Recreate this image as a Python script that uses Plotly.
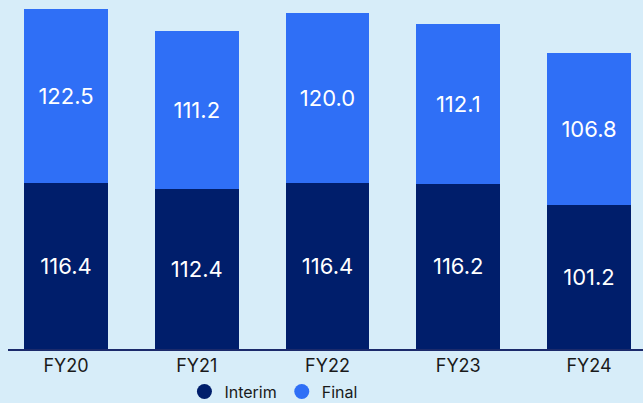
import plotly.graph_objects as go

years = ["FY20", "FY21", "FY22", "FY23", "FY24"]
interim = [116.4, 112.4, 116.4, 116.2, 101.2]
final = [122.5, 111.2, 120.0, 112.1, 106.8]

NAVY = "#001e6b"
BLUE = "#2f6ff6"
BG = "#d7edf9"

fig = go.Figure()

fig.add_trace(go.Bar(x=years, y=interim, marker_color=NAVY, marker_line_width=0, width=0.64,
                     text=[f"{v:.1f}" for v in interim], textposition="inside",
                     insidetextanchor="middle", textangle=0,
                     textfont=dict(family="Inter", size=22, color="white"),
                     showlegend=False))
fig.add_trace(go.Bar(x=years, y=final, marker_color=BLUE, marker_line_width=0, width=0.64,
                     text=[f"{v:.1f}" for v in final], textposition="inside",
                     insidetextanchor="middle", textangle=0,
                     textfont=dict(family="Inter", size=22, color="white"),
                     showlegend=False))

# legend with round markers
fig.add_trace(go.Scatter(x=[None], y=[None], mode="markers", name="Interim",
                         marker=dict(color=NAVY, size=15, symbol="circle")))
fig.add_trace(go.Scatter(x=[None], y=[None], mode="markers", name="Final",
                         marker=dict(color=BLUE, size=15, symbol="circle")))

fig.update_layout(
    barmode="stack",
    width=643, height=403,
    margin=dict(l=8, r=0, t=0, b=54, autoexpand=False),
    paper_bgcolor=BG,
    plot_bgcolor=BG,
    font=dict(family="Inter", color="#1a1a1a"),
    legend=dict(orientation="h", x=0.418, xanchor="center", y=-0.122, yanchor="middle",
                traceorder="normal",
                font=dict(size=16, color="#1a1a1a"), itemwidth=30,
                bgcolor="rgba(0,0,0,0)"),
)
fig.update_xaxes(range=[-0.4436, 4.413], showline=True, linecolor="#1b2a6b", linewidth=1.5,
                 showgrid=False, ticks="", tickfont=dict(size=18, color="#1a1a1a"))
fig.update_yaxes(range=[0, 245.2], visible=False, showgrid=False)

# page has a default 8px body margin; drop it so the chart fills the window
fig.write_html("out.html", config={"displayModeBar": False},
               post_script="document.body.style.margin='0';")
